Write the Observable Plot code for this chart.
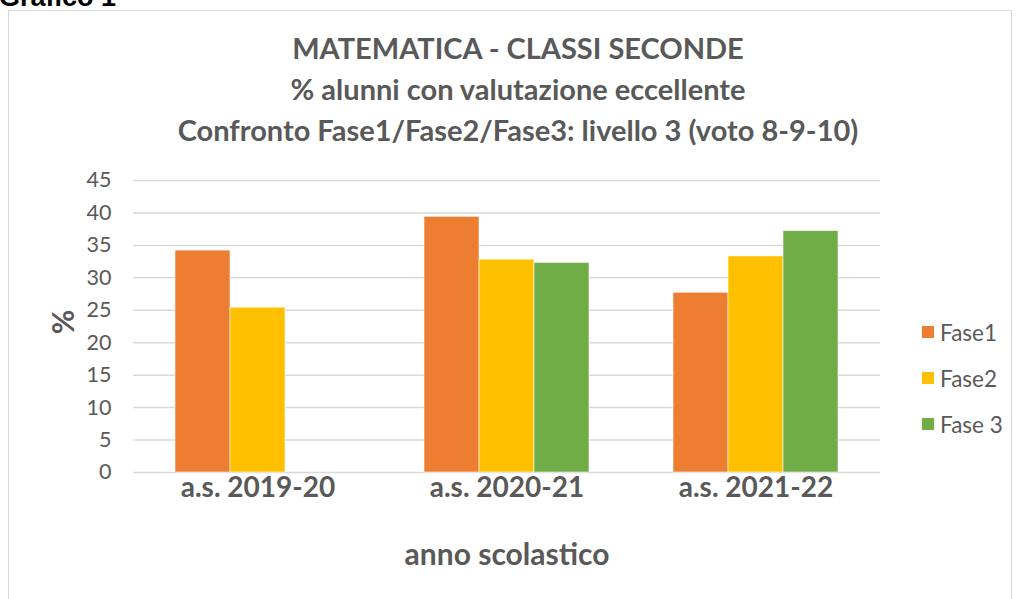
<!DOCTYPE html>
<html><head><meta charset="utf-8">
<script src="https://cdn.jsdelivr.net/npm/d3@7"></script>
<script src="https://cdn.jsdelivr.net/npm/@observablehq/plot@0.6"></script>
<style>
body{margin:0;background:#fff;}
#wrap{position:relative;width:1016px;height:599px;overflow:hidden;font-family:Lato,"Open Sans",sans-serif;}
#grafico{position:absolute;left:-1px;top:-18px;font:bold 27px "Liberation Sans",Arial,sans-serif;color:#000;line-height:31px;}
#frame{position:absolute;left:8px;top:10px;width:1004px;height:600px;border:1.5px solid #d9d9d9;box-sizing:border-box;}
#title{position:absolute;left:18px;width:1000px;top:27px;text-align:center;font-weight:bold;font-size:29px;line-height:41px;color:#595959;}
#chart{position:absolute;left:0;top:0;}
#ylabel{position:absolute;left:62px;top:322px;transform:translate(-50%,-50%) rotate(-90deg);font-weight:bold;font-size:30px;color:#595959;}
#xlabel{position:absolute;left:507px;top:553px;transform:translate(-50%,-50%);font-weight:bold;font-size:30px;color:#595959;white-space:nowrap;}
#legend{position:absolute;left:922px;top:309px;}
.li{display:flex;align-items:center;height:46px;font-size:22.5px;color:#595959;}
.sw{width:12px;height:12px;margin-right:6px;}
</style></head><body>
<div id="wrap">
<div id="grafico">Grafico 1</div>
<div id="frame"></div>
<div id="title">MATEMATICA - CLASSI SECONDE<br>% alunni con valutazione eccellente<br>Confronto Fase1/Fase2/Fase3: livello 3 (voto 8-9-10)</div>
<div id="chart"></div>
<div id="ylabel">%</div>
<div id="xlabel">anno scolastico</div>
<div id="legend"></div>
</div>
<script>
const years = ["a.s. 2019-20", "a.s. 2020-21", "a.s. 2021-22"];
const phases = ["Fase1", "Fase2", "Fase 3"];
const colors = ["#ED7D31", "#FFC000", "#70AD47"];
const fase1 = [34.2, 39.4, 27.7];
const fase2 = [25.4, 32.8, 33.3];
const fase3 = [null, 32.3, 37.2];
const yTicks = [0, 5, 10, 15, 20, 25, 30, 35, 40, 45];

const series = [fase1, fase2, fase3];
const data = [];
years.forEach((yr, i) => {
  series.forEach((s, j) => {
    if (s[i] != null) data.push({year: yr, phase: phases[j], value: s[i]});
  });
});

const chart = Plot.plot({
  width: 1016,
  height: 599,
  marginTop: 180,
  marginBottom: 127,
  marginLeft: 133,
  marginRight: 136,
  style: {fontFamily: "Lato, 'Open Sans', sans-serif", background: "transparent", overflow: "visible"},
  fx: {domain: years, padding: 0, label: null},
  x: {domain: phases, paddingInner: 0, paddingOuter: 0.75, axis: null},
  y: {domain: [0, 45], label: null},
  color: {domain: phases, range: colors},
  marks: [
    Plot.gridY(yTicks, {stroke: "#d9d9d9", strokeOpacity: 1, strokeWidth: 1.5}),
    Plot.barY(data, {fx: "year", x: "phase", y: "value", fill: "phase", stroke: "#fff", strokeWidth: 0.8, strokeOpacity: 0.7, inset: 0}),
    Plot.axisY(yTicks, {tickSize: 0, tickPadding: 22, fontSize: 21.5, fill: "#595959", label: null}),
    Plot.axisFx({anchor: "bottom", tickSize: 0, tickPadding: 5, fontSize: 28, fontWeight: "bold", fill: "#595959", label: null})
  ]
});
document.getElementById("chart").appendChild(chart);

const legend = document.getElementById("legend");
phases.forEach((p, i) => {
  const row = document.createElement("div");
  row.className = "li";
  const sw = document.createElement("div");
  sw.className = "sw";
  sw.style.background = colors[i];
  row.appendChild(sw);
  row.appendChild(document.createTextNode(p));
  legend.appendChild(row);
});
</script>
</body></html>
